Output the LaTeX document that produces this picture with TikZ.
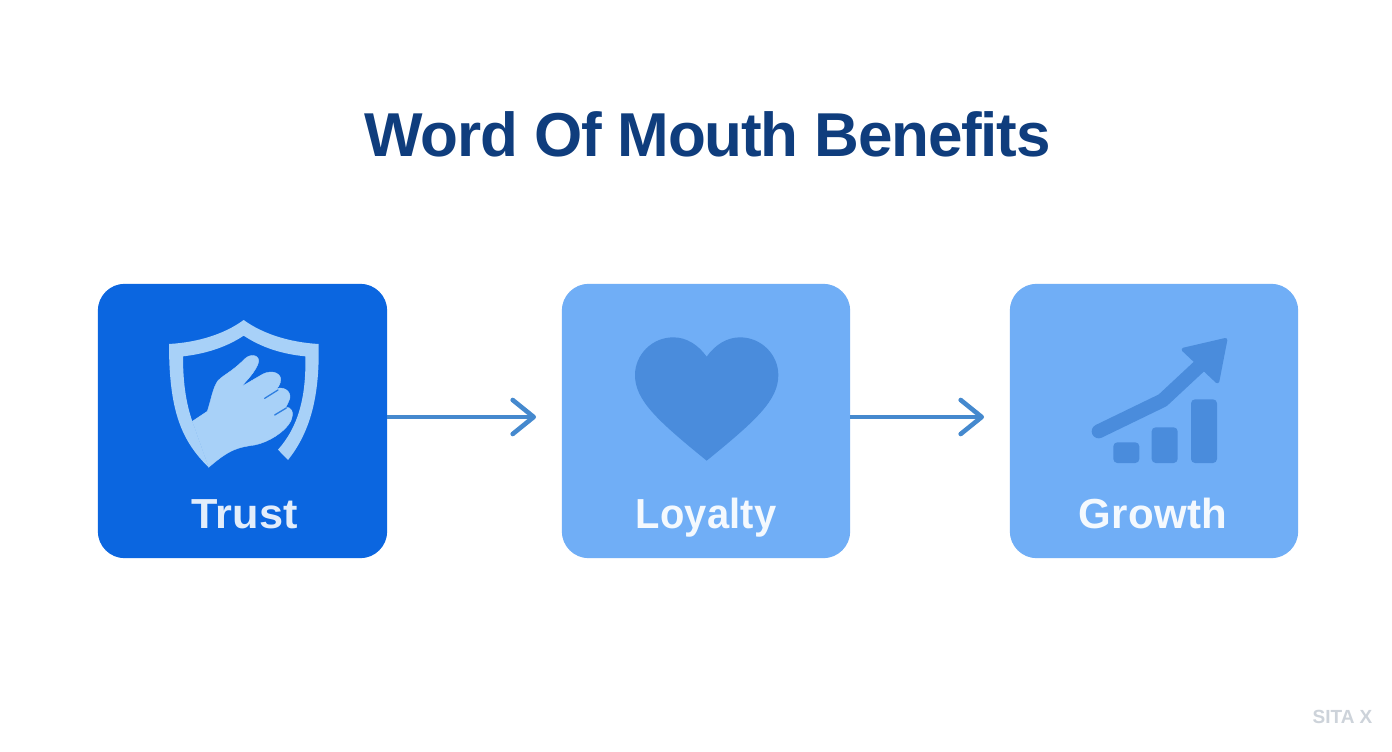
\documentclass[tikz,border=0pt]{standalone}
\usepackage{fontspec}
\setmainfont{Liberation Sans}
\newfontfamily\titlefont[LetterSpace=-2]{Liberation Sans}
\newfontfamily\cardfont[LetterSpace=0.6]{Liberation Sans}
\usetikzlibrary{arrows.meta}
\definecolor{titleblue}{HTML}{0F3D7D}
\definecolor{boxdark}{HTML}{0B66E0}
\definecolor{boxlight}{HTML}{70AEF6}
\definecolor{icondark}{HTML}{4A8CDC}
\definecolor{arrowblue}{HTML}{4589CE}
\definecolor{shieldc}{HTML}{A8D1F8}
\definecolor{slit}{HTML}{2F7FE0}
\definecolor{marksc}{HTML}{CDD3DA}
\tikzset{
  card/.style={minimum height=274pt,inner sep=0pt,draw=none},
  cardmain/.style={card,minimum width=289pt},
  cardsoft/.style={card,minimum width=288pt},
  cardtext/.style={font=\cardfont\fontsize{42}{42}\selectfont\bfseries,anchor=base,transform shape},
  link/.style={draw=arrowblue,line width=4pt,-{Straight Barb[length=21pt,width=34pt,line width=4.6pt,round]}},
  zoomed/.style={x=0.33333pt,y=-0.33333pt},
}
\begin{document}
\begin{tikzpicture}[x=1pt,y=-1pt]
\useasboundingbox (0,0) rectangle (1392,752);
\fill[white] (0,0) rectangle (1392,752);
\node[anchor=base,text=titleblue,font=\titlefont\fontsize{62}{62}\selectfont\bfseries] (title) at (707.5,156) {Word Of Mouth Benefits};

\node[cardmain] (trust) at (242.5,421) {};
\node[cardsoft] (loyalty) at (706,421) {};
\node[cardsoft] (growth) at (1154,421) {};
% card faces, started on a straight edge so that every corner is a clean arc
\foreach \n/\c in {trust/boxdark,loyalty/boxlight,growth/boxlight}{
  \path[fill=\c,rounded corners=27pt] (\n.north) -- (\n.north east) -- (\n.south east) -- (\n.south west) -- (\n.north west) -- cycle;
}

\coordinate (a1) at (536,417);
\coordinate (a2) at (984,417);
\draw[link] (a1 -| trust.east) -- (a1);
\draw[link] (a2 -| loyalty.east) -- (a2);

\node[cardtext,text=white!88!boxdark,xscale=1.03] (ltrust) at (245,528) {Trust};
\node[cardtext,text=white!92!boxlight,xscale=0.95] (lloyalty) at (706,528) {Loyalty};
\node[cardtext,text=white!92!boxlight] (lgrowth) at (1153,528) {Growth};

% shield and hand
\begin{scope}[shift={(98,284)},zoomed]
\fill[shieldc,line join=round] (332,550) .. controls (250,470) and (213,380) .. (213,180)
  .. controls (300,175) and (380,150) .. (437,108)
  .. controls (495,150) and (575,175) .. (662,180)
  .. controls (665,330) and (640,440) .. (570,528)
  -- (540,497)
  .. controls (600,430) and (625,340) .. (622,217)
  .. controls (550,210) and (490,190) .. (437,155)
  .. controls (385,190) and (320,210) .. (255,217)
  .. controls (255,300) and (265,360) .. (283,412) -- cycle;
\path[fill=shieldc,draw=shieldc,line width=0.4pt] (283,412) -- (328,382) .. controls (340,345) and (345,310) .. (360,290)
  .. controls (380,270) and (400,265) .. (440,225)
  .. controls (460,205) and (490,215) .. (480,240)
  .. controls (470,265) and (450,285) .. (430,308)
  -- (495,270) .. controls (525,255) and (555,270) .. (547,295)
  .. controls (545,305) and (540,310) .. (535,314)
  .. controls (565,305) and (585,330) .. (572,352)
  .. controls (570,358) and (566,365) .. (562,372)
  .. controls (580,365) and (590,385) .. (578,412)
  .. controls (560,445) and (510,475) .. (470,483)
  .. controls (420,490) and (395,495) .. (332,550) -- cycle;
\draw[slit,line width=1.3pt,line cap=round] (500,343) -- (540,318);
\draw[slit,line width=1.3pt,line cap=round] (530,393) -- (565,372);
\end{scope}

% heart
\begin{scope}[shift={(500,320)},zoomed]
\fill[icondark] (620,110) .. controls (595,75) and (560,52) .. (520,52)
  .. controls (455,52) and (405,105) .. (405,165)
  .. controls (405,240) and (470,300) .. (620,422)
  .. controls (770,300) and (835,240) .. (835,165)
  .. controls (835,105) and (785,52) .. (720,52)
  .. controls (680,52) and (645,75) .. (620,110) -- cycle;
\end{scope}

% growth chart
\begin{scope}[shift={(1010,284)},zoomed]
\fill[icondark,rounded corners=4pt] (310,475) rectangle (388,537);
\fill[icondark,rounded corners=4pt] (425,430) rectangle (503,537);
\fill[icondark,rounded corners=4pt] (543,346) rectangle (621,537);
\draw[icondark,line width=14pt,line cap=round,line join=round] (266,442) -- (458,349) -- (575,240);
\fill[icondark,draw=icondark,line width=4pt,line join=round] (521,197) -- (646,168) -- (622,292) -- cycle;
\end{scope}

\node[anchor=base,text=marksc,font=\fontsize{19}{19}\selectfont\bfseries] (mark) at (1342.5,723) {SITA X};
\end{tikzpicture}
\end{document}
